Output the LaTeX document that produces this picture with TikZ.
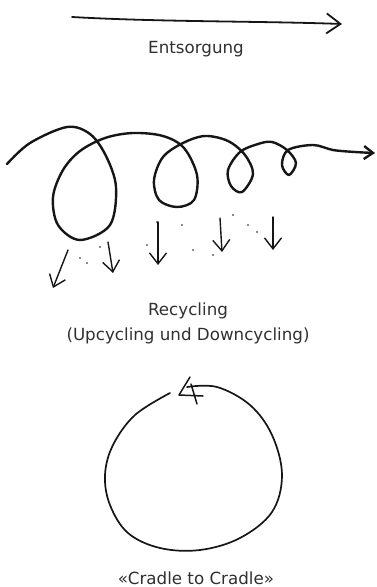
\documentclass[tikz,border=0pt]{standalone}
\usepackage{fontspec}
\setmainfont{DejaVu Sans}
\usetikzlibrary{arrows.meta}
\definecolor{inkblack}{RGB}{22,22,22}
\definecolor{labelgray}{RGB}{48,48,48}
\begin{document}
\begin{tikzpicture}[x=1pt,y=-1pt,
  ink/.style={draw=inkblack,line cap=round,line join=round},
  lbl/.style={font=\fontsize{16.7}{20}\selectfont,text=labelgray,
              anchor=base,inner sep=0pt,align=center},
  bigarr/.style={ink,line width=1.8pt,-{Straight Barb[length=14pt,width=20pt]}},
  smallarr/.style={ink,line width=1.4pt,-{Straight Barb[length=11pt,width=17pt]}},
  dot/.style={fill=inkblack,circle,inner sep=0pt,minimum size=1.6pt}]
\useasboundingbox (0,0) rectangle (377,587);
% linear path
\coordinate (es) at (72,17);
\coordinate (ee) at (342,24);
\draw[bigarr] (es) .. controls (160,22) and (260,21) .. (ee);
\node[lbl] (entsorgung) at (196,53) {Entsorgung};
% spiral
\coordinate (ss) at (7,164);
\coordinate (se) at (375,153);
\draw[ink,line width=2.4pt,-{Straight Barb[length=9pt,width=13pt]}]
  plot[smooth,tension=0.55] coordinates {(ss) (30,143) (67,127) (90,134)
   (106,156) (116,187) (110,225) (80,240) (58,225) (53,197) (63,170)
   (80,151) (105,138) (133,133) (163,136) (184,148) (197,175) (194,200)
   (177,207) (159,200) (154,180) (163,157) (183,143) (205,136) (228,141)
   (245,155) (253,174) (242,192) (231,186) (228,170) (240,152) (258,144)
   (272,142) (287,150) (296,163) (289,175) (282,165) (288,150) (313,145)
   (333,150) (355,152) (se)};
% dropped material
\coordinate (d1s) at (68,250);  \coordinate (d1e) at (53,288);
\coordinate (d2s) at (108,242); \coordinate (d2e) at (113,273);
\coordinate (d3s) at (158,222); \coordinate (d3e) at (158,265);
\coordinate (d4s) at (220,218); \coordinate (d4e) at (222,252);
\coordinate (d5s) at (273,217); \coordinate (d5e) at (273,250);
\foreach \a in {1,...,5}
  \draw[smallarr] (d\a s) -- (d\a e);
\foreach \p in {(80,258),(87,263),(100,247),(147,245),(157,222),(182,225),
                (193,250),(213,255),(233,215),(248,225),(257,232)}
  \node[dot] at \p {};
\node[lbl] (recycling) at (188,315) {Recycling};
\node[lbl] (upcycling) at (188,340) {(Upcycling und Downcycling)};
% cycle
\coordinate (cs) at (187,387);
\coordinate (ce) at (170,393);
\draw[ink,line width=1.7pt] plot[smooth,tension=0.6] coordinates {(cs)
   (217,387) (250,405) (272,435) (282,475) (272,512) (240,538) (200,550)
   (160,548) (128,533) (110,505) (105,475) (113,445) (135,415) (ce)};
\draw[ink,line width=1.5pt] (190,377) -- (179,395) -- (203,396)
  (191,384) -- (197,404);
\node[lbl] (cradle) at (196,584) {«Cradle to Cradle»};
\end{tikzpicture}
\end{document}
